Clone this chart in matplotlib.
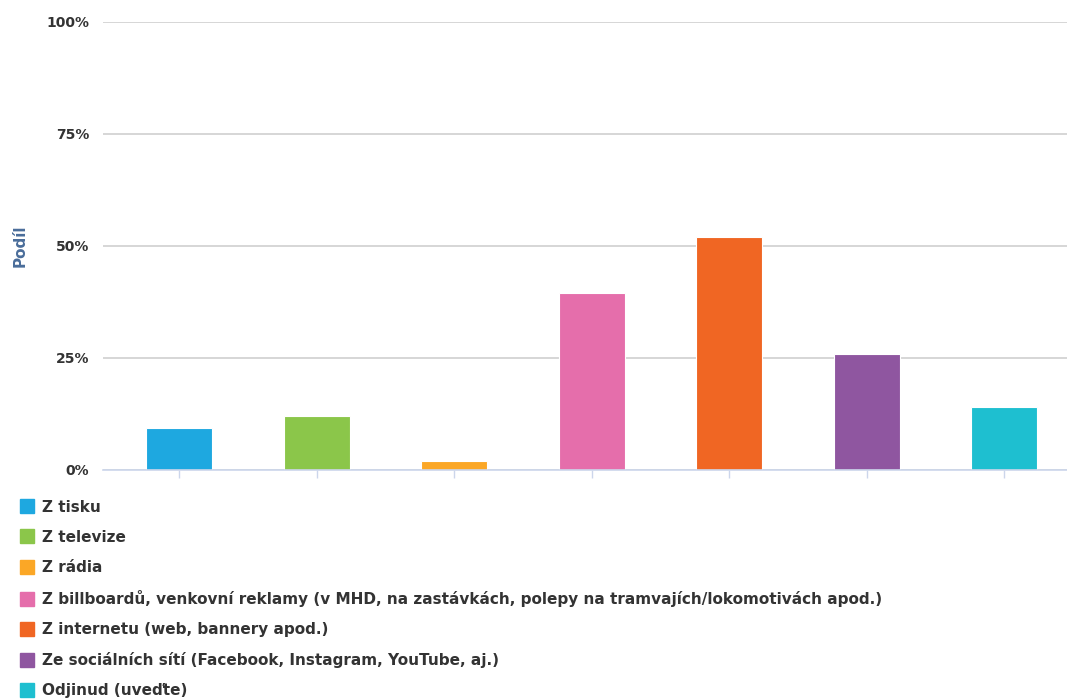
import matplotlib.pyplot as plt
from matplotlib.lines import Line2D

categories = ['Z tisku', 'Z televize', 'Z rádia',
              'Z billboardů, venkovní reklamy (v MHD, na zastávkách, polepy na tramvajích/lokomotivách apod.)',
              'Z internetu (web, bannery apod.)',
              'Ze sociálních sítí (Facebook, Instagram, YouTube, aj.)',
              'Odjinud (uveďte)']
values = [9.4, 12.0, 1.9, 39.4, 51.9, 25.8, 14.0]
colors = ['#1ea8e0', '#8bc64a', '#fba726', '#e56eab', '#f06623', '#8f56a0', '#1ebfd0']
yticks = [0, 25, 50, 75, 100]
ytick_labels = ['0%', '25%', '50%', '75%', '100%']

fig = plt.figure(figsize=(10.67, 7), dpi=100)
ax = fig.add_axes([0.0965, 0.3286, 0.9035, 0.64])

x = range(len(categories))
ax.bar(x, values, width=0.48, color=colors, edgecolor='white', linewidth=0.8, zorder=3)

ax.set_ylim(0, 100)
ax.set_xlim(-0.553, len(categories) - 0.542)
ax.set_yticks(yticks)
ax.set_yticklabels(ytick_labels, fontsize=10, fontweight='bold', color='#333333')
ax.set_xticks(list(x))
ax.set_xticklabels([])
ax.grid(axis='y', color='#d0d0d0', linewidth=1.2, zorder=0)
ax.tick_params(axis='y', length=0, pad=10)
ax.tick_params(axis='x', length=6, color='#ccd6eb', width=1)
for s in ['top', 'right', 'left']:
    ax.spines[s].set_visible(False)
ax.spines['bottom'].set_color('#ccd6eb')
ax.spines['bottom'].set_linewidth(1.2)
ax.spines['bottom'].set_zorder(4)

ax.set_ylabel('Podíl', fontsize=11, fontweight='bold', color='#4a6d9a')
ax.yaxis.set_label_coords(-0.078, 0.5)

handles = [Line2D([0], [0], marker='s', linestyle='none', markersize=10,
                  markerfacecolor=c, markeredgecolor=c) for c in colors]
leg = fig.legend(handles, categories, loc='upper left', bbox_to_anchor=(0.0136, 0.295),
                 frameon=False, handlelength=0.8, handletextpad=0.6,
                 labelspacing=0.99, borderaxespad=0,
                 prop={'weight': 'bold', 'size': 11})
for t in leg.get_texts():
    t.set_color('#333333')

fig.savefig('out.png', dpi=100)
